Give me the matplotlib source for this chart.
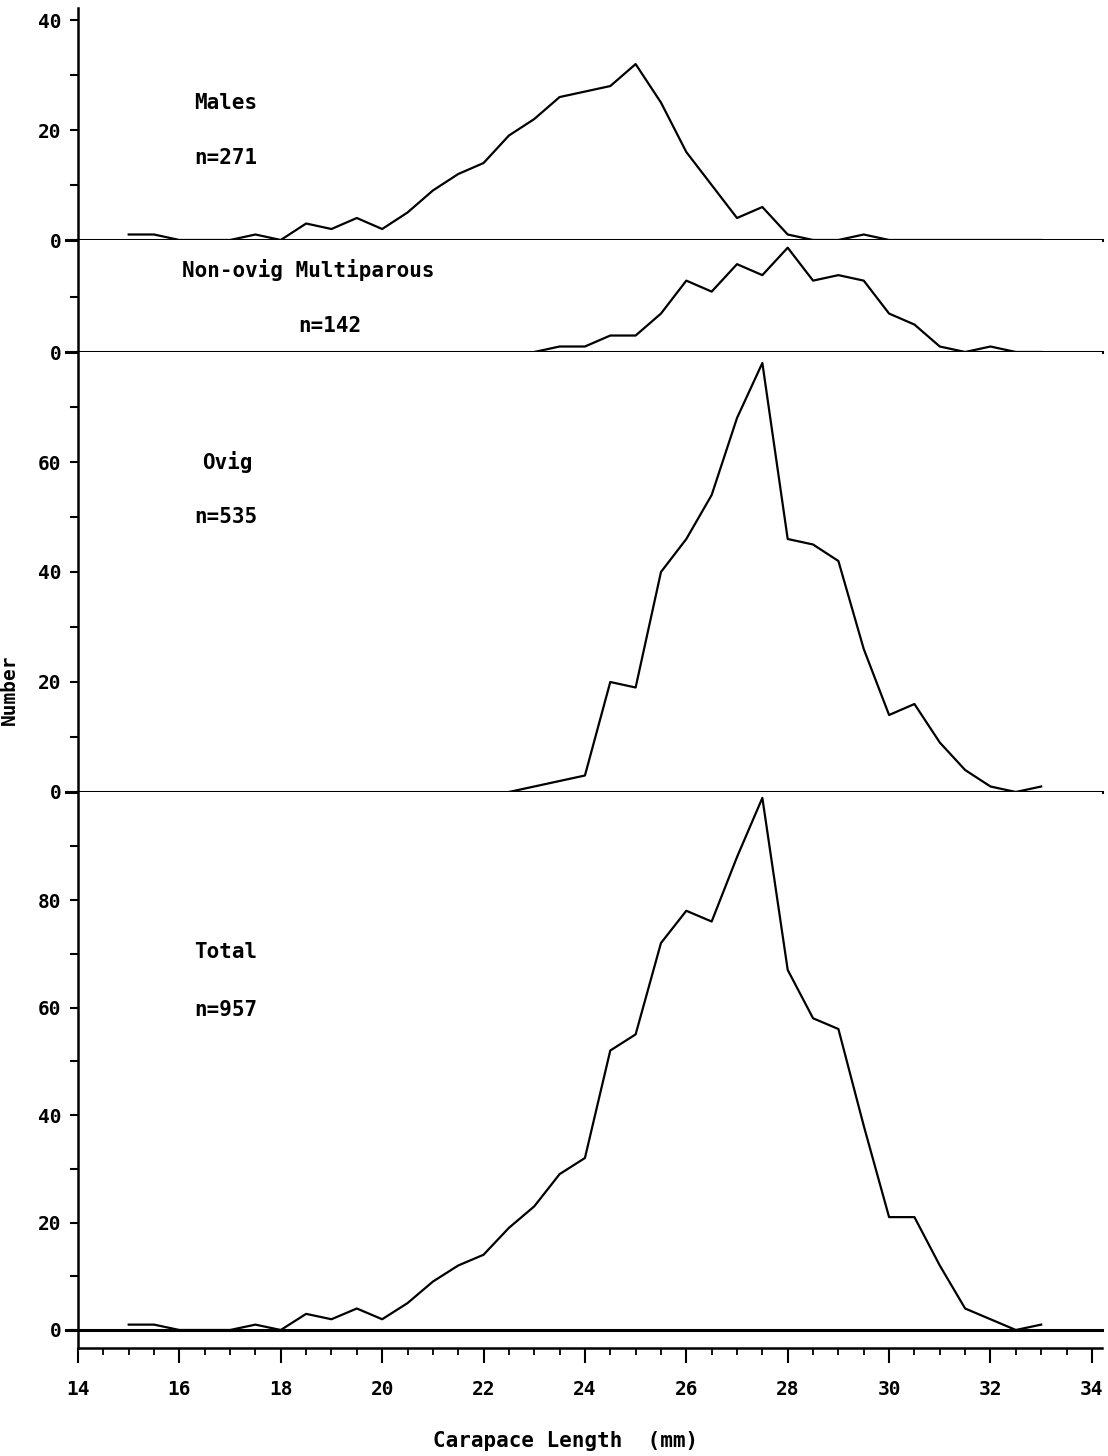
import numpy as np
import matplotlib
matplotlib.use("Agg")
import matplotlib.pyplot as plt

plt.rcParams['font.family'] = ['DejaVu Sans Mono']
plt.rcParams['font.weight'] = 'bold'

# carapace length classes (mm)
length = np.arange(15.0, 33.01, 0.5)

# counts per class
males = [1, 1, 0, 0, 0, 1, 0, 3, 2, 4, 2, 5, 9, 12, 14, 19, 22, 26, 27, 28,
         32, 25, 16, 10, 4, 6, 1, 0, 0, 1, 0, 0, 0, 0, 0, 0, 0]
nonovig = [0, 0, 0, 0, 0, 0, 0, 0, 0, 0, 0, 0, 0, 0, 0, 0, 0, 1, 1, 3,
           3, 7, 13, 11, 16, 14, 19, 13, 14, 13, 7, 5, 1, 0, 1, 0, 0]
ovig = [0, 0, 0, 0, 0, 0, 0, 0, 0, 0, 0, 0, 0, 0, 0, 0, 1, 2, 3, 20,
        19, 40, 46, 54, 68, 78, 46, 45, 42, 26, 14, 16, 9, 4, 1, 0, 1]
total = [1, 1, 0, 0, 0, 1, 0, 3, 2, 4, 2, 5, 9, 12, 14, 19, 23, 29, 32, 52,
         55, 72, 78, 76, 88, 99, 67, 58, 56, 38, 21, 21, 12, 4, 2, 0, 1]

# where each series starts being drawn (first class plotted)
start_x = [15.0, 23.0, 22.5, 15.0]

W, H = 1108, 1456
fig = plt.figure(figsize=(W / 100, H / 100), dpi=100)

left = 78 / W
width = (1102 - 78) / W

# panel pixel extents (top, bottom) and y limits
panels = [
    (8, 240, (0, 42.2), np.arange(0, 41, 10), [0, 20, 40]),
    (240, 352, (0, 20.4), [0, 10], [0]),
    (352, 792, (0, 80), np.arange(0, 71, 10), [0, 20, 40, 60]),
    (792, 1348, (-3.35, 100.1), np.arange(0, 91, 10), [0, 20, 40, 60, 80]),
]
series = [males, nonovig, ovig, total]
labels = [("Males", "n=271"), ("Non-ovig Multiparous", "n=142"),
          ("Ovig", "n=535"), ("Total", "n=957")]
label_pos = [((16.3, 25), (16.3, 15)), ((16.05, 14.9), (18.35, 4.7)),
             ((16.45, 60), (16.3, 50)), ((16.3, 70.3), (16.3, 59.5))]

axes = []
for i, (top, bot, ylim, ticks, lab) in enumerate(panels):
    ax = fig.add_axes([left, 1 - bot / H, width, (bot - top) / H])
    ax.set_xlim(14, 34.2)
    ax.set_ylim(*ylim)
    for s in ['top', 'right']:
        ax.spines[s].set_visible(False)
    ax.spines['left'].set_linewidth(1.8)
    ax.set_yticks(ticks)
    ax.set_yticklabels([str(t) if t in lab else "" for t in ticks], fontsize=14)
    ax.tick_params(axis='y', direction='out', length=6, width=1.5, pad=6)
    ax.axhline(0, color='black', lw=2.2, xmin=-0.012, clip_on=False)

    y = np.array(series[i])
    m = length >= start_x[i]
    ax.plot(length[m], y[m], color='black', lw=1.6, clip_on=False)

    (t1, t2) = labels[i]
    (p1, p2) = label_pos[i]
    ax.text(p1[0], p1[1], t1, fontsize=15, va='center', ha='left')
    ax.text(p2[0], p2[1], t2, fontsize=15, va='center', ha='left')

    if i < 3:
        ax.spines['bottom'].set_visible(False)
        ax.set_xticks([])
    else:
        ax.spines['bottom'].set_linewidth(1.8)
        ax.set_xticks(np.arange(14, 35, 2))
        ax.set_xticks(np.arange(14, 34.1, 0.5), minor=True)
        ax.tick_params(axis='x', which='major', direction='out', length=11,
                       width=1.5, pad=12, labelsize=14)
        ax.tick_params(axis='x', which='minor', direction='out', length=5,
                       width=1.3)
    axes.append(ax)

fig.text(566 / W, 1 - 1441 / H, "Carapace Length  (mm)", fontsize=15,
         ha='center', va='center')
fig.text(9 / W, 1 - 690 / H, "Number", fontsize=14, rotation=90,
         ha='center', va='center')

fig.savefig("out.png", dpi=100, facecolor='white')
